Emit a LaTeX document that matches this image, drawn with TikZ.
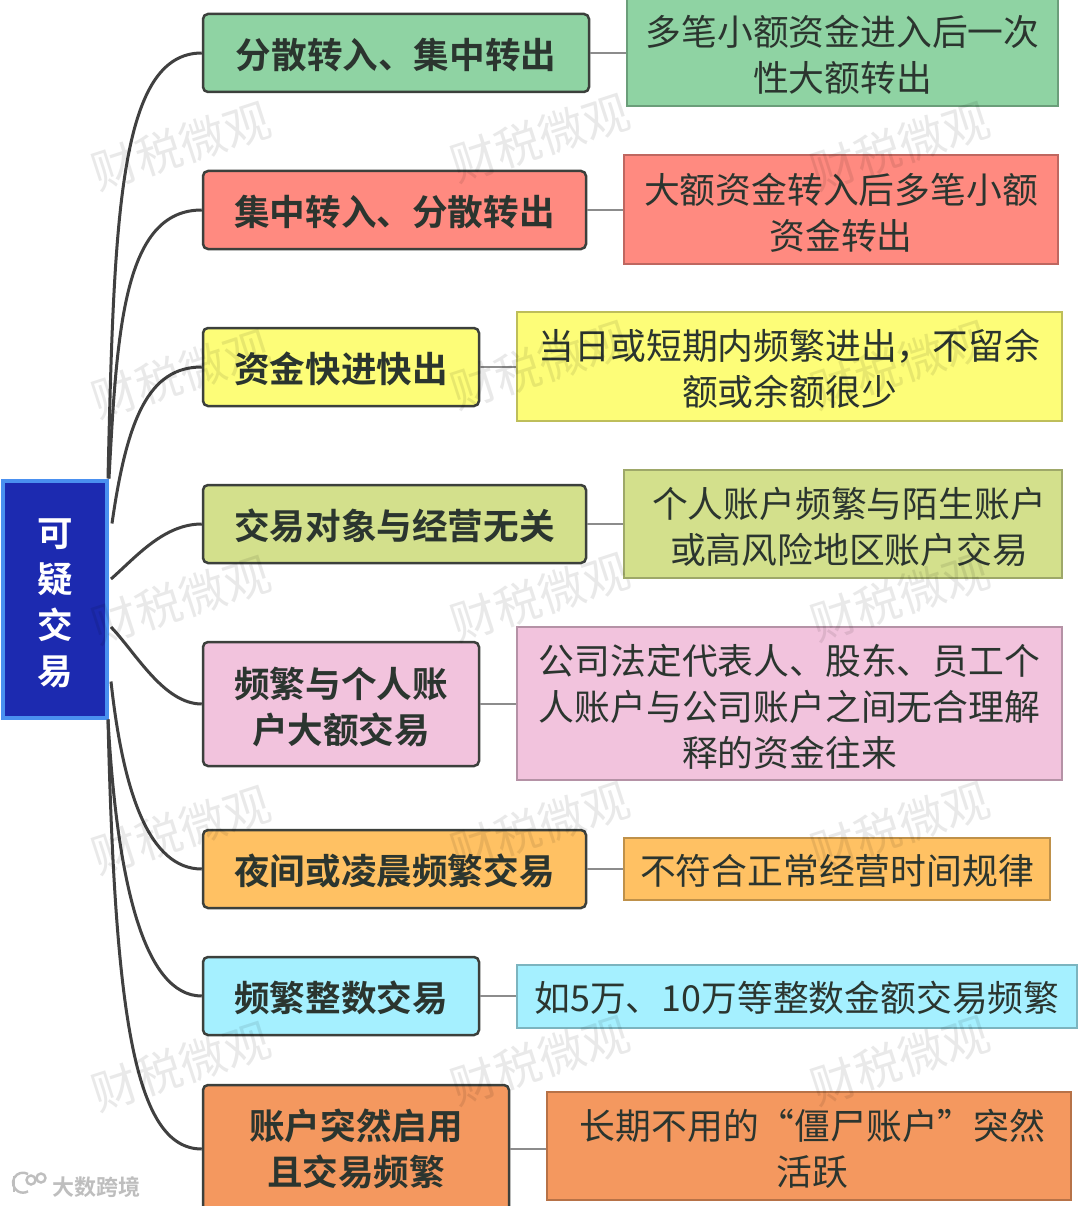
\documentclass[tikz,border=0pt]{standalone}
\usepackage{fontspec}
\setmainfont{Noto Sans CJK SC}
\newfontfamily\cjk[BoldFont={Noto Sans CJK SC Bold}]{Noto Sans CJK SC}
\definecolor{cgreen}{HTML}{8FD3A3}
\definecolor{cred}{HTML}{FF8A80}
\definecolor{cyellow}{HTML}{FDFD78}
\definecolor{colive}{HTML}{D3E08C}
\definecolor{cpink}{HTML}{F2C3DD}
\definecolor{corange}{HTML}{FFC163}
\definecolor{ccyan}{HTML}{A5F0FF}
\definecolor{cdeep}{HTML}{F4985F}
\definecolor{ink}{HTML}{2B352F}
\definecolor{rootfill}{HTML}{1C2AB0}
\definecolor{rootedge}{HTML}{4A90F0}
\definecolor{branchedge}{HTML}{3C403C}
\definecolor{trunkcol}{HTML}{404040}
\definecolor{twigcol}{HTML}{8C8C8C}
\definecolor{brandcol}{HTML}{BEBEBE}
\newcommand{\onestrut}{\rule{0pt}{34pt}}
\newcommand{\manystrut}{\rule{0pt}{36pt}}
\tikzset{
  rootbox/.style={draw=rootedge,line width=4pt,fill=rootfill,text=white,font=\cjk\bfseries\fontsize{35.5}{46}\selectfont,align=center,inner sep=0pt,minimum width=104pt,minimum height=237pt},
  branch/.style={draw=branchedge,line width=2.5pt,rounded corners=5pt,fill=#1,text=ink,font=\cjk\bfseries\fontsize{35.6}{46}\selectfont,align=center,inner sep=0pt},
  detail/.style={draw=#1!75!black,line width=1.4pt,fill=#1,text=ink,font=\cjk\fontsize{35.8}{46}\selectfont,align=center,inner sep=0pt},
  trunk/.style={draw=trunkcol,line width=3pt},
  twig/.style={draw=twigcol,line width=1.6pt},
  wmark/.style={rotate=18,text=black,text opacity=0.085,font=\cjk\fontsize{46}{46}\selectfont,inner sep=0pt},
  brand/.style={text=brandcol,font=\cjk\bfseries\fontsize{22}{22}\selectfont,inner sep=0pt},
  brandmark/.style={draw=brandcol,line width=2.4pt}
}
\begin{document}
\begin{tikzpicture}[x=1pt,y=-1pt]
\path[clip] (0,0) rectangle (1080,1206);
\useasboundingbox (0,0) rectangle (1080,1206);
\fill[white] (0,0) rectangle (1080,1206);
% root
\node[rootbox] (root) at (55,599) {\manystrut 可\\疑\\交\\易};
% branches
\node[branch=cgreen,minimum width=386pt,minimum height=78pt] (b1) at (396,53) {\onestrut 分散转入、集中转出};
\node[branch=cred,minimum width=383pt,minimum height=78pt] (b2) at (394.5,210) {\onestrut 集中转入、分散转出};
\node[branch=cyellow,minimum width=276pt,minimum height=78pt] (b3) at (341,367) {\onestrut 资金快进快出};
\node[branch=colive,minimum width=383pt,minimum height=78pt] (b4) at (394.5,524) {\onestrut 交易对象与经营无关};
\node[branch=cpink,minimum width=276pt,minimum height=124pt] (b5) at (341,704) {\manystrut 频繁与个人账\\户大额交易};
\node[branch=corange,minimum width=383pt,minimum height=78pt] (b6) at (394.5,869) {\onestrut 夜间或凌晨频繁交易};
\node[branch=ccyan,minimum width=276pt,minimum height=78pt] (b7) at (341,996) {\onestrut 频繁整数交易};
\node[branch=cdeep,minimum width=306pt,minimum height=128pt] (b8) at (356,1149) {账户突然启用\\且交易频繁};
% details
\node[detail=cgreen,minimum width=431pt,minimum height=108pt] (d1) at (842.5,52) {\manystrut 多笔小额资金进入后一次\\性大额转出};
\node[detail=cred,minimum width=434pt,minimum height=109pt] (d2) at (841,209.5) {\manystrut 大额资金转入后多笔小额\\资金转出};
\node[detail=cyellow,minimum width=545pt,minimum height=109pt] (d3) at (789.5,366.5) {\manystrut 当日或短期内频繁进出，不留余\\额或余额很少};
\node[detail=colive,minimum width=438pt,minimum height=108pt] (d4) at (843,524) {\manystrut\kern12pt 个人账户频繁与陌生账户\\\kern12pt 或高风险地区账户交易};
\node[detail=cpink,minimum width=545pt,minimum height=153pt] (d5) at (789.5,703.5) {\manystrut 公司法定代表人、股东、员工个\\人账户与公司账户之间无合理解\\释的资金往来};
\node[detail=corange,minimum width=426pt,minimum height=62pt] (d6) at (837,869) {\onestrut 不符合正常经营时间规律};
\node[detail=ccyan,minimum width=560pt,minimum height=63pt] (d7) at (797,996.5) {\onestrut 如5万、10万等整数金额交易频繁};
\node[detail=cdeep,minimum width=524pt,minimum height=108pt] (d8) at (809,1146) {\manystrut\kern7pt 长期不用的“僵尸账户”突然\\\kern7pt 活跃};
% trunk connectors
\draw[trunk] ([xshift=-1pt]root.north east) .. controls +(6,-260) and +(-83,0) .. (b1.west);
\draw[trunk] (root.north east) .. controls +(8,-150) and +(-78,0) .. (b2.west);
\draw[trunk] ([xshift=3pt,yshift=-45pt]root.north east) .. controls +(15,-105) and +(-53,0) .. (b3.west);
\draw[trunk] ([xshift=2pt,yshift=20pt]root.east) .. controls +(25,-22) and +(-38,0) .. (b4.west);
\draw[trunk] ([xshift=2pt,yshift=-28pt]root.east) .. controls +(25,26) and +(-38,0) .. (b5.west);
\draw[trunk] ([xshift=2pt,yshift=38pt]root.south east) .. controls +(12,110) and +(-53,0) .. (b6.west);
\draw[trunk] ([xshift=-1pt]root.south east) .. controls +(9,162) and +(-58,0) .. (b7.west);
\draw[trunk] ([xshift=-1pt]root.south east) .. controls +(7,292) and +(-68,0) .. (b8.west);
% twigs
\foreach \n in {1,...,8}{\draw[twig] (b\n.east) -- (b\n.east -| d\n.west);}
% watermarks
\node[wmark] (w11) at (181,146) {财税微观};
\node[wmark] (w12) at (540,138) {财税微观};
\node[wmark] (w13) at (900,146) {财税微观};
\node[wmark] (w21) at (181,374) {财税微观};
\node[wmark] (w22) at (540,365) {财税微观};
\node[wmark] (w23) at (900,365) {财税微观};
\node[wmark] (w31) at (181,600) {财税微观};
\node[wmark] (w32) at (540,597) {财税微观};
\node[wmark] (w33) at (900,597) {财税微观};
\node[wmark] (w41) at (181,830) {财税微观};
\node[wmark] (w42) at (540,826) {财税微观};
\node[wmark] (w43) at (900,826) {财税微观};
\node[wmark] (w51) at (181,1066) {财税微观};
\node[wmark] (w52) at (540,1060) {财税微观};
\node[wmark] (w53) at (900,1060) {财税微观};
% brand
\node[brand,anchor=west] (brandtext) at (52,1187) {大数跨境};
\draw[brandmark] (14,1176) -- (14,1192);
\draw[brandmark] (28,1174) arc (60:300:10pt);
\draw[brandmark] (31,1180) circle (4.5pt);
\draw[brandmark] (41,1178) circle (4.5pt);
\end{tikzpicture}
\end{document}
